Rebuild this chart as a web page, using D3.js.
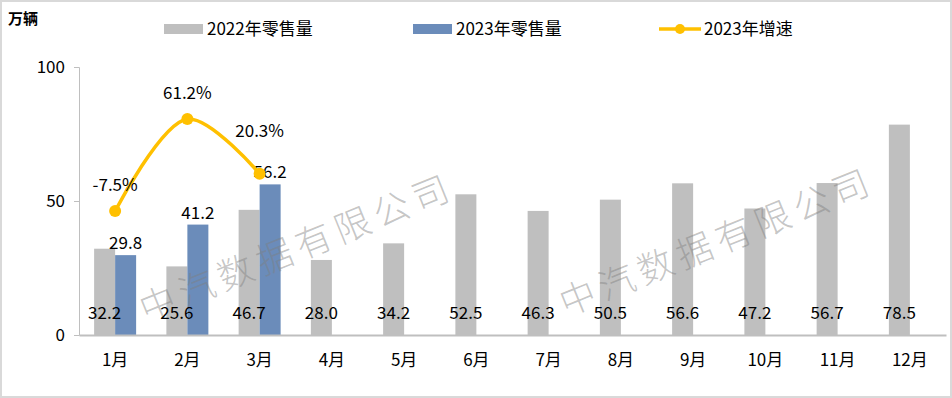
<!DOCTYPE html>
<html>
<head>
<meta charset="utf-8">
<script src="https://cdn.jsdelivr.net/npm/d3@7"></script>
<style>
    body { margin: 0; background: #fff; }
    text { font-family: "Microsoft YaHei", "Noto Sans CJK SC", sans-serif; }
</style>
</head>
<body>
<div id="chart"></div>
<script>
const months = ["1月", "2月", "3月", "4月", "5月", "6月", "7月", "8月", "9月", "10月", "11月", "12月"];
const sales2022 = [32.2, 25.6, 46.7, 28.0, 34.2, 52.5, 46.3, 50.5, 56.6, 47.2, 56.7, 78.5];
const sales2023 = [29.8, 41.2, 56.2];
const growth2023 = [-7.5, 61.2, 20.3];
const yTicks = [0, 50, 100];

const width = 952, height = 398;
const margin = { left: 79, right: 6, top: 67, bottom: 63 };
const fs = 17;

const svg = d3.select("#chart")
    .append("svg")
    .attr("width", width)
    .attr("height", height);

svg.append("rect")
    .attr("x", 1).attr("y", 1)
    .attr("width", width - 2).attr("height", height - 2)
    .attr("fill", "#fff")
    .attr("stroke", "#d9d9d9")
    .attr("stroke-width", 2);

const x = d3.scaleBand()
    .domain(months)
    .range([margin.left, width - margin.right]);

const y = d3.scaleLinear()
    .domain([0, 100])
    .range([height - margin.bottom, margin.top]);

// hidden secondary axis for growth rate
const y2 = d3.scaleLinear()
    .domain([-100, 100])
    .range([height - margin.bottom, margin.top]);

const barW = 21;

// y axis
const yAxis = svg.append("g")
    .attr("transform", `translate(${margin.left},0)`)
    .call(d3.axisLeft(y).tickValues(yTicks).tickSize(5).tickPadding(9));
yAxis.select(".domain").attr("stroke", "#bfbfbf");
yAxis.selectAll(".tick line").attr("stroke", "#bfbfbf");
yAxis.selectAll(".tick text").attr("font-size", fs).attr("fill", "#000");

// 2022 bars
svg.selectAll(".bar22")
    .data(sales2022)
    .enter()
    .append("rect")
    .attr("class", "bar22")
    .attr("x", (d, i) => x(months[i]) + x.bandwidth() / 2 - barW)
    .attr("y", d => y(d))
    .attr("width", barW)
    .attr("height", d => y(0) - y(d))
    .attr("fill", "#bfbfbf");

// 2023 bars
svg.selectAll(".bar23")
    .data(sales2023)
    .enter()
    .append("rect")
    .attr("class", "bar23")
    .attr("x", (d, i) => x(months[i]) + x.bandwidth() / 2)
    .attr("y", d => y(d))
    .attr("width", barW)
    .attr("height", d => y(0) - y(d))
    .attr("fill", "#6b8cba");

// x axis
const xAxis = svg.append("g")
    .attr("transform", `translate(0,${y(0)})`)
    .call(d3.axisBottom(x).tickSize(0).tickPadding(19));
xAxis.select(".domain").attr("stroke", "#bfbfbf").attr("stroke-width", 2);
xAxis.selectAll(".tick text").attr("font-size", fs).attr("fill", "#000");

// watermark
function watermark(cx, cy) {
    svg.append("text")
        .attr("transform", `translate(${cx},${cy}) rotate(-22)`)
        .attr("text-anchor", "middle")
        .attr("dy", "0.35em")
        .attr("font-size", 36)
        .attr("letter-spacing", 6)
        .attr("fill", "#7f7f7f")
        .attr("fill-opacity", 0.45)
        .attr("font-weight", 300)
        .text("中汽数据有限公司");
}
watermark(297, 248);
watermark(717, 242);

// 2022 labels inside bottom
svg.selectAll(".lab22")
    .data(sales2022)
    .enter()
    .append("text")
    .attr("class", "lab22")
    .attr("x", (d, i) => x(months[i]) + x.bandwidth() / 2 - barW / 2)
    .attr("y", y(0) - 16)
    .attr("text-anchor", "middle")
    .attr("font-size", fs)
    .text(d => d.toFixed(1));

// 2023 labels above bars
svg.selectAll(".lab23")
    .data(sales2023)
    .enter()
    .append("text")
    .attr("class", "lab23")
    .attr("x", (d, i) => x(months[i]) + x.bandwidth() / 2 + barW / 2)
    .attr("y", d => y(d) - 6)
    .attr("text-anchor", "middle")
    .attr("font-size", fs)
    .text(d => d.toFixed(1));

// growth line
const cx = (d, i) => x(months[i]) + x.bandwidth() / 2;
const line = d3.line()
    .x(cx)
    .y(d => y2(d))
    .curve(d3.curveCatmullRom.alpha(0.5));

svg.append("path")
    .datum(growth2023)
    .attr("d", line)
    .attr("fill", "none")
    .attr("stroke", "#ffc000")
    .attr("stroke-width", 3.5);

svg.selectAll(".dot")
    .data(growth2023)
    .enter()
    .append("circle")
    .attr("cx", cx)
    .attr("cy", d => y2(d))
    .attr("r", 6)
    .attr("fill", "#ffc000");

svg.selectAll(".labg")
    .data(growth2023)
    .enter()
    .append("text")
    .attr("x", cx)
    .attr("y", (d, i) => y2(d) - (i === 2 ? 37 : 20))
    .attr("text-anchor", "middle")
    .attr("font-size", fs)
    .text(d => d.toFixed(1) + "%");

// unit
svg.append("text")
    .attr("x", 8).attr("y", 24)
    .attr("font-size", 15)
    .attr("font-weight", "bold")
    .text("万辆");

// legend
const legend = svg.append("g").attr("font-size", fs);
legend.append("rect").attr("x", 164).attr("y", 24).attr("width", 39).attr("height", 10).attr("fill", "#bfbfbf");
legend.append("text").attr("x", 207).attr("y", 35).text("2022年零售量");
legend.append("rect").attr("x", 413).attr("y", 24).attr("width", 39).attr("height", 10).attr("fill", "#6b8cba");
legend.append("text").attr("x", 456).attr("y", 35).text("2023年零售量");
legend.append("line").attr("x1", 659).attr("x2", 701).attr("y1", 29).attr("y2", 29)
    .attr("stroke", "#ffc000").attr("stroke-width", 3.5);
legend.append("circle").attr("cx", 680).attr("cy", 29).attr("r", 5).attr("fill", "#ffc000");
legend.append("text").attr("x", 704).attr("y", 35).text("2023年增速");
</script>
</body>
</html>
